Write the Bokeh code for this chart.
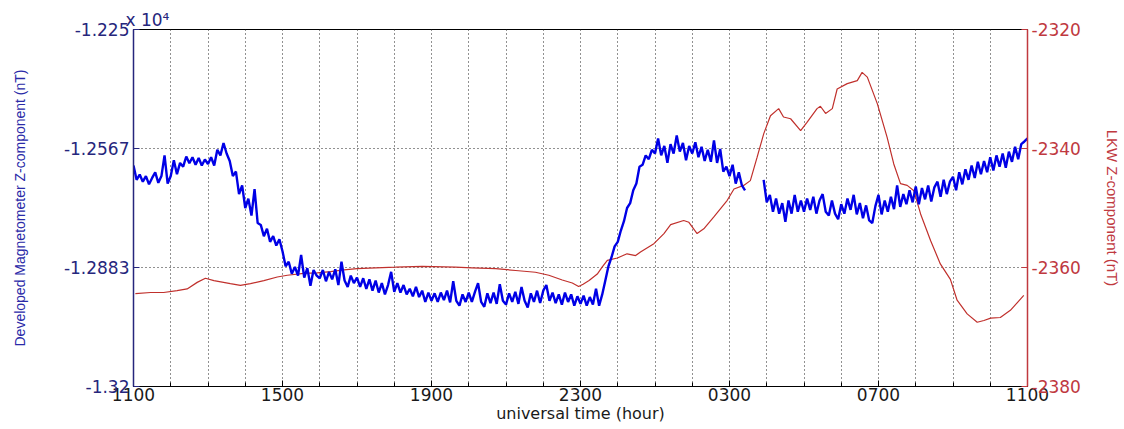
import numpy as np
from bokeh.plotting import figure
from bokeh.models import Range1d, LinearAxis, FixedTicker
from bokeh.embed import file_html
from bokeh.resources import INLINE

# ---- axis ticks and labels ----
hour_ticks = [0, 4, 8, 12, 16, 20, 24]
hour_labels = ["1100", "1500", "1900", "2300", "0300", "0700", "1100"]
left_ticks = [-13200, -12883.333, -12566.667, -12250]
left_labels = ["-1.32", "-1.2883", "-1.2567", "-1.225"]
right_ticks = [-2380, -2360, -2340, -2320]
right_labels = ["-2380", "-2360", "-2340", "-2320"]
left_exponent = "x 10\u2074"

# ---- developed magnetometer Z (nT), one sample every 5 minutes from 1100 UT ----
nan = np.nan
dev_z = [
    -12612, -12650, -12636, -12655, -12640, -12662, -12645, -12630, -12658, -12640, -12585, -12660,
    -12640, -12598, -12635, -12605, -12615, -12588, -12606, -12590, -12610, -12592, -12612, -12596,
    -12608, -12590, -12612, -12570, -12585, -12552, -12580, -12600, -12640, -12628, -12688, -12665,
    -12725, -12700, -12745, -12675, -12765, -12770, -12800, -12780, -12815, -12800, -12825, -12808,
    -12840, -12880, -12868, -12900, -12882, -12905, -12850, -12910, -12885, -12932, -12890, -12905,
    -12912, -12890, -12920, -12895, -12915, -12888, -12930, -12868, -12918, -12935, -12905, -12925,
    -12910, -12935, -12912, -12940, -12915, -12945, -12918, -12950, -12925, -12955, -12930, -12895,
    -12948, -12925, -12950, -12930, -12955, -12940, -12960, -12935, -12962, -12945, -12975, -12950,
    -12972, -12952, -12975, -12950, -12970, -12945, -12976, -12920, -12972, -12985, -12955, -12975,
    -12950, -12975, -12948, -12925, -12975, -12988, -12952, -12978, -12950, -12980, -12928, -12972,
    -12982, -12952, -12975, -12948, -12980, -12935, -12972, -12990, -12952, -12975, -12945, -12978,
    -12945, -12930, -12972, -12950, -12978, -12955, -12982, -12950, -12975, -12955, -12985, -12960,
    -12980, -12958, -12985, -12962, -12982, -12940, -12985, -12955, -12918, -12880, -12856, -12827,
    -12815, -12785, -12760, -12725, -12712, -12678, -12660, -12615, -12610, -12585, -12595, -12570,
    -12580, -12540, -12585, -12560, -12605, -12555, -12580, -12532, -12575, -12552, -12598, -12560,
    -12580, -12550, -12590, -12562, -12600, -12570, -12602, -12545, -12605, -12568, -12628, -12615,
    -12640, -12610, -12660, -12630, -12665, -12678, nan, nan, nan, nan, nan, -12650,
    -12710, -12690, -12735, -12700, -12740, -12712, -12762, -12705, -12740, -12690, -12735, -12705,
    -12735, -12700, -12730, -12695, -12740, -12705, -12688, -12735, -12745, -12705, -12740, -12755,
    -12715, -12740, -12700, -12730, -12690, -12742, -12712, -12752, -12718, -12758, -12765, -12720,
    -12690, -12742, -12705, -12735, -12695, -12728, -12665, -12722, -12688, -12715, -12678, -12710,
    -12668, -12715, -12672, -12702, -12665, -12708, -12670, -12655, -12695, -12650, -12688, -12655,
    -12642, -12678, -12630, -12662, -12622, -12650, -12612, -12645, -12602, -12635, -12600, -12630,
    -12590, -12625, -12585, -12615, -12580, -12618, -12575, -12602, -12562, -12595, -12555, -12548,
    -12540,
]
dev_hours = np.arange(len(dev_z)) * 5 / 60.0

# ---- LKW observatory Z (nT) ----
lkw_hours = [
    0.05, 0.46, 0.81, 1.17, 1.44, 1.71, 1.93, 2.16, 2.60, 2.87, 3.14, 3.50, 3.86, 4.13,
    4.57, 4.93, 5.29, 5.65, 6.00, 6.50, 7.03, 7.75, 8.64, 9.09, 9.72, 10.26, 10.79, 11.15,
    11.51, 11.78, 11.95, 12.07, 12.23, 12.45, 12.58, 12.72, 12.99, 13.25, 13.48, 13.61, 13.97,
    14.24, 14.42, 14.77, 14.91, 15.13, 15.31, 15.58, 15.94, 16.12, 16.38, 16.56, 16.74, 16.92,
    17.10, 17.32, 17.45, 17.64, 17.91, 18.08, 18.35, 18.44, 18.58, 18.76, 18.89, 19.16, 19.43,
    19.56, 19.70, 19.97, 20.23, 20.41, 20.59, 20.77, 20.95, 21.13, 21.40, 21.66, 21.93, 22.11,
    22.38, 22.65, 22.83, 23.01, 23.27, 23.54, 23.90,
]
lkw_z = [
    -2364.4, -2364.2, -2364.2, -2363.9, -2363.6, -2362.5, -2361.8, -2362.2, -2362.7, -2363.0,
    -2362.7, -2362.2, -2361.6, -2361.3, -2361.0, -2360.9, -2360.7, -2360.4, -2360.2, -2360.05,
    -2359.95, -2359.8, -2359.95, -2360.05, -2360.2, -2360.5, -2360.8, -2361.3, -2362.1, -2362.6,
    -2363.2, -2362.8, -2362.2, -2361.1, -2359.95, -2358.8, -2358.4, -2357.7, -2358.0, -2357.4,
    -2356.0, -2354.3, -2352.8, -2352.1, -2352.4, -2354.3, -2353.5, -2351.5, -2348.7, -2346.8,
    -2346.2, -2345.4, -2341.5, -2337.5, -2334.5, -2333.3, -2334.7, -2335.0, -2337.0, -2335.6,
    -2333.3, -2332.9, -2334.1, -2333.3, -2330.0, -2329.1, -2328.6, -2327.2, -2328.0, -2332.5,
    -2338.1, -2342.6, -2345.9, -2346.2, -2347.1, -2351.0, -2355.5, -2359.4, -2362.0, -2365.5,
    -2367.8, -2369.2, -2368.9, -2368.5, -2368.4, -2367.2, -2364.7,
]

BLUE_AX = "#26267c"
RED_AX = "#c0393f"
TICK_FONT = "DejaVu Sans"

p = figure(width=1124, height=429, output_backend="svg", toolbar_location=None,
           x_range=Range1d(0, 24), y_range=Range1d(-13200, -12250),
           min_border_left=133, min_border_right=97, min_border_top=29, min_border_bottom=43)
p.background_fill_color = "white"
p.border_fill_color = "white"
p.outline_line_color = "black"
p.outline_line_width = 1

# scale exponent of the left axis, shown above its top end
p.title.text = left_exponent
p.title.align = "left"
p.title.offset = -8
p.title.standoff = 0
p.title.text_font = TICK_FONT
p.title.text_font_size = "17px"
p.title.text_font_style = "normal"
p.title.text_color = BLUE_AX

# bottom time axis
xa = p.xaxis[0]
xa.ticker = FixedTicker(ticks=hour_ticks, minor_ticks=list(range(25)))
xa.major_label_overrides = dict(zip(hour_ticks, hour_labels))
xa.axis_label = "universal time (hour)"
xa.axis_label_text_font = TICK_FONT
xa.axis_label_text_font_size = "16px"
xa.axis_label_text_font_style = "normal"
xa.axis_label_text_color = "#1a1a1a"
xa.axis_label_standoff = 0
xa.major_label_text_font = TICK_FONT
xa.major_label_text_font_size = "17px"
xa.major_label_text_color = "#1a1a1a"
xa.major_label_standoff = 1
xa.axis_line_color = "black"
xa.major_tick_line_color = "black"
xa.minor_tick_line_color = "black"
xa.major_tick_in = 6
xa.major_tick_out = 0
xa.minor_tick_in = 4
xa.minor_tick_out = 0

# left axis: developed magnetometer
ya = p.yaxis[0]
ya.ticker = FixedTicker(ticks=left_ticks, minor_ticks=[])
ya.major_label_overrides = dict(zip(left_ticks, left_labels))
ya.axis_label = "Developed Magnetometer Z-component (nT)"
ya.axis_label_text_font = "Liberation Sans"
ya.axis_label_text_font_size = "14px"
ya.axis_label_text_font_style = "normal"
ya.axis_label_text_color = "#2a2aa8"
ya.axis_label_standoff = 33
ya.major_label_text_font = TICK_FONT
ya.major_label_text_font_size = "17px"
ya.major_label_text_color = BLUE_AX
ya.major_label_standoff = 4
ya.axis_line_color = BLUE_AX
ya.axis_line_width = 1.5
ya.major_tick_line_color = BLUE_AX
ya.major_tick_in = 6
ya.major_tick_out = 0
ya.minor_tick_line_color = None

# right axis: LKW observatory
p.extra_y_ranges = {"lkw": Range1d(-2380, -2320)}
ra = LinearAxis(y_range_name="lkw")
ra.ticker = FixedTicker(ticks=right_ticks, minor_ticks=[])
ra.major_label_overrides = dict(zip(right_ticks, right_labels))
ra.axis_label = "LKW Z-component (nT)"
ra.axis_label_text_font = "Liberation Sans"
ra.axis_label_text_font_size = "15px"
ra.axis_label_text_font_style = "normal"
ra.axis_label_text_color = RED_AX
ra.axis_label_standoff = 20
ra.major_label_text_font = TICK_FONT
ra.major_label_text_font_size = "17px"
ra.major_label_text_color = RED_AX
ra.major_label_standoff = 4
ra.axis_line_color = RED_AX
ra.axis_line_width = 1.5
ra.major_tick_line_color = RED_AX
ra.major_tick_in = 6
ra.major_tick_out = 0
ra.minor_tick_line_color = None
p.add_layout(ra, "right")

# dotted grid: every hour, and the two inner y levels
p.xgrid.ticker = FixedTicker(ticks=list(range(1, 24)))
p.xgrid.grid_line_color = "#222222"
p.xgrid.grid_line_dash = "1 3"
p.xgrid.grid_line_width = 1
p.ygrid.ticker = FixedTicker(ticks=left_ticks[1:3])
p.ygrid.grid_line_color = "#222222"
p.ygrid.grid_line_dash = "1 3"
p.ygrid.grid_line_width = 1

# data
p.line(lkw_hours, lkw_z, y_range_name="lkw", line_color="#c0302c", line_width=1.2)
p.line(dev_hours, dev_z, line_color="#0000e6", line_width=2.4)

open("out.html", "w").write(file_html(p, INLINE))
